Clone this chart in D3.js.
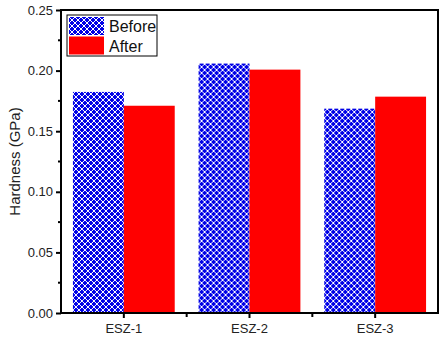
<!DOCTYPE html>
<html>
<head>
<meta charset="utf-8">
<script src="https://cdn.jsdelivr.net/npm/d3@7"></script>
<style>
  body { margin: 0; background: #fff; }
  text { font-family: "Liberation Sans", Arial, sans-serif; }
</style>
</head>
<body>
<div id="chart"></div>
<script>
// chart data
const samples = ["ESZ-1", "ESZ-2", "ESZ-3"];
const seriesNames = ["Before", "After"];
const beforeValues = [0.1824, 0.2058, 0.1686];
const afterValues = [0.171, 0.2008, 0.1785];
const yTicks = [0.00, 0.05, 0.10, 0.15, 0.20, 0.25];

let margin = {top: 10, right: 7, bottom: 32, left: 61};
let width = 445 - margin.left - margin.right;
let height = 345 - margin.top - margin.bottom;

let svg = d3.select("#chart").append("svg")
    .attr("width", 445)
    .attr("height", 345);

// crosshatch pattern for the "Before" bars
let defs = svg.append("defs");
let pat = defs.append("pattern")
    .attr("id", "hatch")
    .attr("patternUnits", "userSpaceOnUse")
    .attr("width", 6)
    .attr("height", 6);
pat.append("rect").attr("width", 6).attr("height", 6).attr("fill", "#0000e6");
pat.append("path")
    .attr("d", "M0,0 L6,6 M6,0 L0,6 M-1,5 L1,7 M5,-1 L7,1 M-1,1 L1,-1 M5,7 L7,5")
    .attr("stroke", "#ffffff")
    .attr("stroke-width", 1);

let g = svg.append("g")
    .attr("transform", "translate(" + margin.left + "," + margin.top + ")");

let x = d3.scaleBand()
    .domain(samples)
    .range([0, width])
    .padding(0);

let xInner = d3.scaleBand()
    .domain(seriesNames)
    .range([0, x.bandwidth() * 0.81]);

let y = d3.scaleLinear()
    .domain([0, 0.25])
    .range([height, 0]);

let rows = samples.map((s, i) => ({sample: s, values: [
    {key: "Before", value: beforeValues[i]},
    {key: "After", value: afterValues[i]}
]}));

// bars
let groups = g.selectAll(".grp")
    .data(rows)
    .enter().append("g")
    .attr("class", "grp")
    .attr("transform", d => "translate(" + (x(d.sample) + x.bandwidth() * 0.095) + ",0)");

groups.selectAll("rect")
    .data(d => d.values)
    .enter().append("rect")
    .attr("x", d => xInner(d.key))
    .attr("y", d => y(d.value))
    .attr("width", xInner.bandwidth())
    .attr("height", d => height - y(d.value))
    .attr("fill", d => d.key === "Before" ? "url(#hatch)" : "#ff0000");

// frame
g.append("rect")
    .attr("x", 0).attr("y", 0)
    .attr("width", width).attr("height", height)
    .attr("fill", "none")
    .attr("stroke", "#000")
    .attr("stroke-width", 2);

// y axis
let yAxis = g.append("g")
    .call(d3.axisLeft(y).tickValues(yTicks).tickFormat(d3.format(".2f")).tickSize(5).tickPadding(3));
yAxis.select(".domain").remove();
yAxis.selectAll(".tick line").attr("stroke-width", 2);
yAxis.selectAll("text").attr("font-size", 13).attr("fill", "#222");

// y minor ticks
let yMinor = d3.range(0.025, 0.25, 0.05);
g.selectAll(".yminor")
    .data(yMinor)
    .enter().append("line")
    .attr("x1", -3).attr("x2", 0)
    .attr("y1", d => y(d)).attr("y2", d => y(d))
    .attr("stroke", "#000").attr("stroke-width", 2);

// x axis
let xAxis = g.append("g")
    .attr("transform", "translate(0," + height + ")")
    .call(d3.axisBottom(x).tickSize(5).tickPadding(6));
xAxis.select(".domain").remove();
xAxis.selectAll(".tick line").attr("stroke-width", 2);
xAxis.selectAll("text").attr("font-size", 13).attr("fill", "#222");

// x minor ticks between categories
g.selectAll(".xminor")
    .data(samples.slice(1))
    .enter().append("line")
    .attr("x1", d => x(d)).attr("x2", d => x(d))
    .attr("y1", height).attr("y2", height + 4)
    .attr("stroke", "#000").attr("stroke-width", 2);

// y axis label
svg.append("text")
    .attr("transform", "translate(20," + (margin.top + height / 2) + ") rotate(-90)")
    .attr("text-anchor", "middle")
    .attr("font-size", 15)
    .attr("fill", "#222")
    .text("Hardness (GPa)");

// legend
let legend = g.append("g").attr("transform", "translate(6,5)");
legend.append("rect")
    .attr("width", 90).attr("height", 41)
    .attr("fill", "#fff")
    .attr("stroke", "#000")
    .attr("stroke-width", 1);

let items = legend.selectAll(".item")
    .data(seriesNames)
    .enter().append("g")
    .attr("transform", (d, i) => "translate(2," + (2 + i * 19.5) + ")");
items.append("rect")
    .attr("width", 35).attr("height", 18)
    .attr("fill", d => d === "Before" ? "url(#hatch)" : "#ff0000");
items.append("text")
    .attr("x", 40).attr("y", 15)
    .attr("font-size", 16)
    .attr("fill", "#111")
    .text(d => d);
</script>
</body>
</html>
